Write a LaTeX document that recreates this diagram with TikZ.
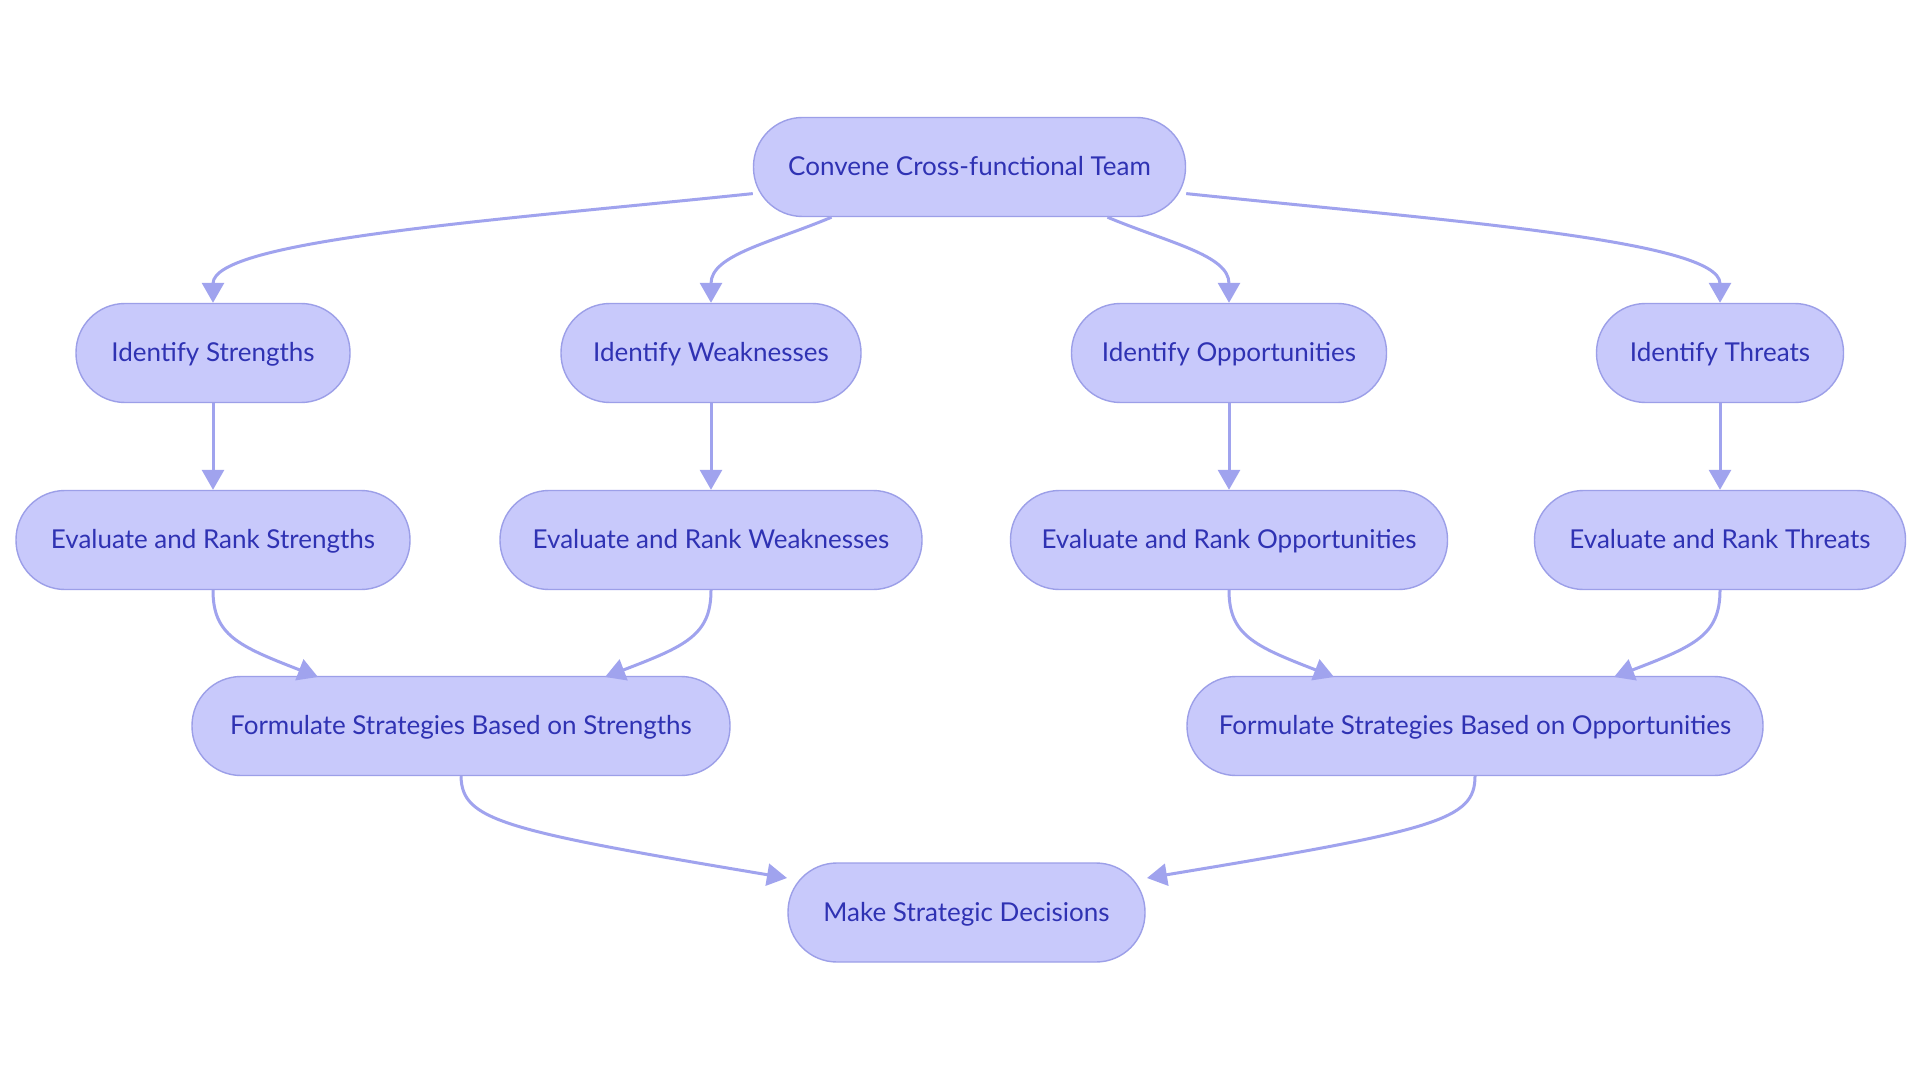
\documentclass[tikz,border=0pt]{standalone}
\usepackage{fontspec}
\setmainfont{Lato}
\usetikzlibrary{arrows.meta}
\definecolor{nodefill}{HTML}{C8C9FB}
\definecolor{nodeline}{HTML}{9C9FE8}
\definecolor{edgecol}{HTML}{A0A3EE}
\definecolor{txtcol}{HTML}{2F32B3}
\tikzset{
  pill/.style={rectangle, rounded corners=24.5pt, draw=nodeline, line width=0.7pt,
    fill=nodefill, text=txtcol, minimum height=49.5pt, inner sep=0pt,
    text height=0.86em, text depth=0pt,
    font=\fontsize{13}{15}\selectfont},
  conn/.style={draw=edgecol, line width=1.5pt,
    -{Triangle[length=10pt,width=11pt]}},
}
\begin{document}
\begin{tikzpicture}[x=0.5pt,y=-0.5pt]
\useasboundingbox (0,0) rectangle (1920,1080);
\fill[white] (0,0) rectangle (1920,1080);
% nodes
\node[pill, minimum width=216pt] (top) at (969.5,167) {Convene Cross-functional Team};
\node[pill, minimum width=137pt] (is) at (213,353) {Identify Strengths};
\node[pill, minimum width=150pt] (iw) at (711,353) {Identify Weaknesses};
\node[pill, minimum width=157.5pt] (io) at (1229,353) {Identify Opportunities};
\node[pill, minimum width=123.5pt] (it) at (1720,353) {Identify Threats};
\node[pill, minimum width=197pt] (es) at (213,540) {Evaluate and Rank Strengths};
\node[pill, minimum width=211pt] (ew) at (711,540) {Evaluate and Rank Weaknesses};
\node[pill, minimum width=218.5pt] (eo) at (1229,540) {Evaluate and Rank Opportunities};
\node[pill, minimum width=185.5pt] (et) at (1720,540) {Evaluate and Rank Threats};
\node[pill, minimum width=269pt] (fs) at (461,726) {Formulate Strategies Based on Strengths};
\node[pill, minimum width=288pt] (fo) at (1475,726) {Formulate Strategies Based on Opportunities};
\node[pill, minimum width=178.5pt] (md) at (966.5,912.5) {Make Strategic Decisions};
% top fan-out
\draw[conn] (top.187) .. controls (500,220) and (213,240) .. (is.north);
\draw[conn] (top.200) .. controls (770,243) and (711,255) .. (iw.north);
\draw[conn] (top.-20) .. controls (1169,243) and (1229,255) .. (io.north);
\draw[conn] (top.-7) .. controls (1439,220) and (1720,240) .. (it.north);
% verticals
\draw[conn] (is) -- (es);
\draw[conn] (iw) -- (ew);
\draw[conn] (io) -- (eo);
\draw[conn] (it) -- (et);
% merges
\coordinate (fsl) at (318,677);
\coordinate (fsr) at (605,677);
\coordinate (fol) at (1334,677);
\coordinate (for) at (1614,677);
\draw[conn] (es.south) .. controls (213,635) and (238,646) .. (fsl);
\draw[conn] (ew.south) .. controls (711,635) and (686,646) .. (fsr);
\draw[conn] (eo.south) .. controls (1229,635) and (1254,646) .. (fol);
\draw[conn] (et.south) .. controls (1720,635) and (1695,646) .. (for);
\coordinate (mdl) at (787,878);
\coordinate (mdr) at (1147,878);
\draw[conn] (fs.south) .. controls (462,820) and (500,830) .. (mdl);
\draw[conn] (fo.south) .. controls (1475,820) and (1437,830) .. (mdr);
\end{tikzpicture}
\end{document}
